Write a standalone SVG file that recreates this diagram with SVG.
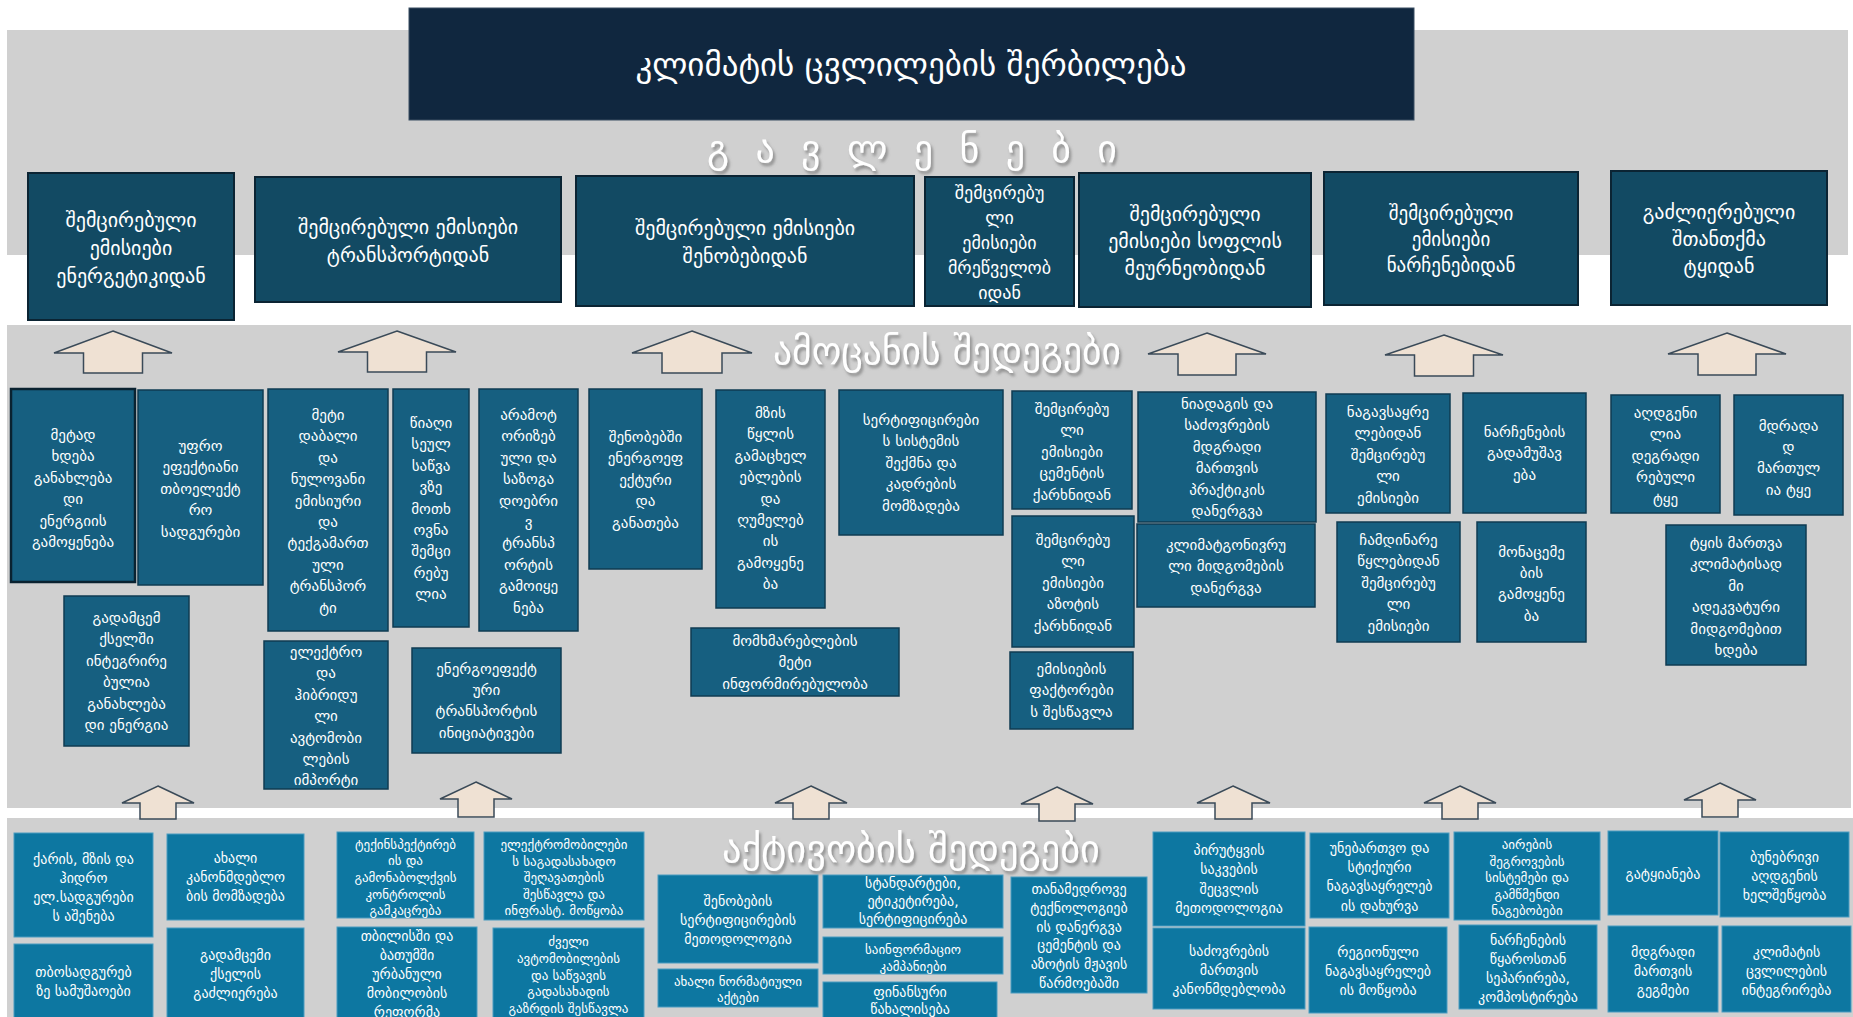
<svg xmlns="http://www.w3.org/2000/svg" width="1853" height="1017" viewBox="0 0 1853 1017">
<defs>
<style>
.band{fill:#d0d0d0}
text{font-family:"DejaVu Sans",sans-serif;fill:#fff;text-anchor:middle}
.imp rect{fill:#124a63;stroke:#0b2433;stroke-width:2}
.imp text{font-size:20px}
.mid rect{fill:#165f80;stroke:#0f3b52;stroke-width:1.5}
.mid text{font-size:15px}
.act rect{fill:#0d77a1;stroke:#4b9cc0;stroke-width:1}
.act text{font-size:14px}
.arr{fill:#efe1d3;stroke:#3a4a58;stroke-width:1.5}
.head{font-size:38px;filter:url(#sh)}
</style>
<filter id="sh" x="-10%" y="-30%" width="120%" height="160%">
<feDropShadow dx="2" dy="3" stdDeviation="1.5" flood-color="#777" flood-opacity="0.8"/>
</filter>
</defs>
<rect width="1853" height="1017" fill="#fff"/>
<rect class="band" x="7" y="30" width="1841" height="225"/>
<rect class="band" x="7" y="325" width="1844" height="483"/>
<rect class="band" x="7" y="818" width="1846" height="210"/>

<g id="title">
<rect x="409" y="8" width="1005" height="112" fill="#10273f" stroke="#3b4f63" stroke-width="1"/>
<text x="911" y="76" font-size="33">კლიმატის ცვლილების შერბილება</text>
</g>
<text class="head" x="912" y="162" textLength="410" lengthAdjust="spacing">გ ა ვ ლ ე ნ ე ბ ი</text>
<text class="head" x="947" y="364" textLength="348" lengthAdjust="spacingAndGlyphs">ამოცანის შედეგები</text>
<text class="head" x="911" y="862" textLength="378" lengthAdjust="spacingAndGlyphs">აქტივობის შედეგები</text>

<g id="impacts">
<g class="imp" id="i1"><rect x="28" y="173" width="206" height="147"/><text x="131" y="227"><tspan x="131">შემცირებული</tspan><tspan x="131" dy="28">ემისიები</tspan><tspan x="131" dy="28">ენერგეტიკიდან</tspan></text></g>
<g class="imp" id="i2"><rect x="255" y="177" width="306" height="125"/><text x="408" y="234"><tspan x="408">შემცირებული ემისიები</tspan><tspan x="408" dy="28">ტრანსპორტიდან</tspan></text></g>
<g class="imp" id="i3"><rect x="576" y="176" width="338" height="130"/><text x="745" y="235"><tspan x="745">შემცირებული ემისიები</tspan><tspan x="745" dy="28">შენობებიდან</tspan></text></g>
<g class="imp" id="i4"><rect x="925" y="177" width="149" height="129"/><text x="999.5" y="199" style="font-size:18px"><tspan x="999.5">შემცირებუ</tspan><tspan x="999.5" dy="25">ლი</tspan><tspan x="999.5" dy="25">ემისიები</tspan><tspan x="999.5" dy="25">მრეწველობ</tspan><tspan x="999.5" dy="25">იდან</tspan></text></g>
<g class="imp" id="i5"><rect x="1079" y="173" width="232" height="134"/><text x="1195" y="221"><tspan x="1195">შემცირებული</tspan><tspan x="1195" dy="27">ემისიები სოფლის</tspan><tspan x="1195" dy="27">მეურნეობიდან</tspan></text></g>
<g class="imp" id="i6"><rect x="1324" y="172" width="254" height="133"/><text x="1451" y="220" style="font-size:19px"><tspan x="1451">შემცირებული</tspan><tspan x="1451" dy="26">ემისიები</tspan><tspan x="1451" dy="26">ნარჩენებიდან</tspan></text></g>
<g class="imp" id="i7"><rect x="1611" y="171" width="216" height="134"/><text x="1719" y="219"><tspan x="1719">გაძლიერებული</tspan><tspan x="1719" dy="27">შთანთქმა</tspan><tspan x="1719" dy="27">ტყიდან</tspan></text></g>
</g>

<g id="outcomes">
<g class="mid" id="a1"><rect x="11" y="389" width="124" height="193" style="stroke:#0a2230;stroke-width:2.5"/><text y="440"><tspan x="73">მეტად</tspan><tspan x="73" dy="21.4">ხდება</tspan><tspan x="73" dy="21.4">განახლება</tspan><tspan x="73" dy="21.4">დი</tspan><tspan x="73" dy="21.4">ენერგიის</tspan><tspan x="73" dy="21.4">გამოყენება</tspan></text></g>
<g class="mid" id="a2"><rect x="138" y="390" width="125" height="195"/><text y="451"><tspan x="200.5">უფრო</tspan><tspan x="200.5" dy="21.4">ეფექტიანი</tspan><tspan x="200.5" dy="21.4">თბოელექტ</tspan><tspan x="200.5" dy="21.4">რო</tspan><tspan x="200.5" dy="21.4">სადგურები</tspan></text></g>
<g class="mid" id="a3"><rect x="268" y="389" width="120" height="242"/><text y="420"><tspan x="328">მეტი</tspan><tspan x="328" dy="21.4">დაბალი</tspan><tspan x="328" dy="21.4">და</tspan><tspan x="328" dy="21.4">ნულოვანი</tspan><tspan x="328" dy="21.4">ემისიური</tspan><tspan x="328" dy="21.4">და</tspan><tspan x="328" dy="21.4">ტექგამართ</tspan><tspan x="328" dy="21.4">ული</tspan><tspan x="328" dy="21.4">ტრანსპორ</tspan><tspan x="328" dy="21.4">ტი</tspan></text></g>
<g class="mid" id="a4"><rect x="393" y="389" width="76" height="238"/><text y="428"><tspan x="431">წიაღი</tspan><tspan x="431" dy="21.4">სეულ</tspan><tspan x="431" dy="21.4">საწვა</tspan><tspan x="431" dy="21.4">ვზე</tspan><tspan x="431" dy="21.4">მოთხ</tspan><tspan x="431" dy="21.4">ოვნა</tspan><tspan x="431" dy="21.4">შემცი</tspan><tspan x="431" dy="21.4">რებუ</tspan><tspan x="431" dy="21.4">ლია</tspan></text></g>
<g class="mid" id="a5"><rect x="64" y="596" width="125" height="150"/><text y="623"><tspan x="126.5">გადამცემ</tspan><tspan x="126.5" dy="21.4">ქსელში</tspan><tspan x="126.5" dy="21.4">ინტეგრირე</tspan><tspan x="126.5" dy="21.4">ბულია</tspan><tspan x="126.5" dy="21.4">განახლება</tspan><tspan x="126.5" dy="21.4">დი ენერგია</tspan></text></g>
<g class="mid" id="a6"><rect x="264" y="641" width="124" height="148"/><text y="657"><tspan x="326">ელექტრო</tspan><tspan x="326" dy="21.4">და</tspan><tspan x="326" dy="21.4">ჰიბრიდუ</tspan><tspan x="326" dy="21.4">ლი</tspan><tspan x="326" dy="21.4">ავტომობი</tspan><tspan x="326" dy="21.4">ლების</tspan><tspan x="326" dy="21.4">იმპორტი</tspan></text></g>
<g class="mid" id="a7"><rect x="412" y="648" width="149" height="105"/><text y="673.5"><tspan x="486.5">ენერგოეფექტ</tspan><tspan x="486.5" dy="21.4">ური</tspan><tspan x="486.5" dy="21.4">ტრანსპორტის</tspan><tspan x="486.5" dy="21.4">ინიციატივები</tspan></text></g>
<g class="mid" id="a8"><rect x="479" y="389" width="99" height="242"/><text y="420"><tspan x="528.5">არამოტ</tspan><tspan x="528.5" dy="21.4">ორიზებ</tspan><tspan x="528.5" dy="21.4">ული და</tspan><tspan x="528.5" dy="21.4">საზოგა</tspan><tspan x="528.5" dy="21.4">დოებრი</tspan><tspan x="528.5" dy="21.4">ვ</tspan><tspan x="528.5" dy="21.4">ტრანსპ</tspan><tspan x="528.5" dy="21.4">ორტის</tspan><tspan x="528.5" dy="21.4">გამოიყე</tspan><tspan x="528.5" dy="21.4">ნება</tspan></text></g>
<g class="mid" id="a9"><rect x="589" y="389" width="113" height="180"/><text y="442"><tspan x="645.5">შენობებში</tspan><tspan x="645.5" dy="21.4">ენერგოეფ</tspan><tspan x="645.5" dy="21.4">ექტური</tspan><tspan x="645.5" dy="21.4">და</tspan><tspan x="645.5" dy="21.4">განათება</tspan></text></g>
<g class="mid" id="a10"><rect x="716" y="390" width="109" height="218"/><text y="418"><tspan x="770.5">მზის</tspan><tspan x="770.5" dy="21.4">წყლის</tspan><tspan x="770.5" dy="21.4">გამაცხელ</tspan><tspan x="770.5" dy="21.4">ებლების</tspan><tspan x="770.5" dy="21.4">და</tspan><tspan x="770.5" dy="21.4">ღუმელებ</tspan><tspan x="770.5" dy="21.4">ის</tspan><tspan x="770.5" dy="21.4">გამოყენე</tspan><tspan x="770.5" dy="21.4">ბა</tspan></text></g>
<g class="mid" id="a11"><rect x="839" y="390" width="164" height="145"/><text y="425"><tspan x="921">სერტიფიცირები</tspan><tspan x="921" dy="21.4">ს სისტემის</tspan><tspan x="921" dy="21.4">შექმნა და</tspan><tspan x="921" dy="21.4">კადრების</tspan><tspan x="921" dy="21.4">მომზადება</tspan></text></g>
<g class="mid" id="a12"><rect x="691" y="628" width="208" height="68"/><text y="646"><tspan x="795">მომხმარებლების</tspan><tspan x="795" dy="21.4">მეტი</tspan><tspan x="795" dy="21.4">ინფორმირებულობა</tspan></text></g>
<g class="mid" id="a13"><rect x="1012" y="391" width="120" height="118"/><text y="414"><tspan x="1072">შემცირებუ</tspan><tspan x="1072" dy="21.4">ლი</tspan><tspan x="1072" dy="21.4">ემისიები</tspan><tspan x="1072" dy="21.4">ცემენტის</tspan><tspan x="1072" dy="21.4">ქარხნიდან</tspan></text></g>
<g class="mid" id="a14"><rect x="1012" y="516" width="122" height="131"/><text y="545"><tspan x="1073">შემცირებუ</tspan><tspan x="1073" dy="21.4">ლი</tspan><tspan x="1073" dy="21.4">ემისიები</tspan><tspan x="1073" dy="21.4">აზოტის</tspan><tspan x="1073" dy="21.4">ქარხნიდან</tspan></text></g>
<g class="mid" id="a15"><rect x="1010" y="652" width="123" height="77"/><text y="674"><tspan x="1071.5">ემისიების</tspan><tspan x="1071.5" dy="21.4">ფაქტორები</tspan><tspan x="1071.5" dy="21.4">ს შესწავლა</tspan></text></g>
<g class="mid" id="a16"><rect x="1138" y="392" width="178" height="130"/><text y="409"><tspan x="1227">ნიადაგის და</tspan><tspan x="1227" dy="21.4">საძოვრების</tspan><tspan x="1227" dy="21.4">მდგრადი</tspan><tspan x="1227" dy="21.4">მართვის</tspan><tspan x="1227" dy="21.4">პრაქტიკის</tspan><tspan x="1227" dy="21.4">დანერგვა</tspan></text></g>
<g class="mid" id="a17"><rect x="1137" y="524" width="178" height="83"/><text y="550"><tspan x="1226">კლიმატგონივრუ</tspan><tspan x="1226" dy="21.4">ლი მიდგომების</tspan><tspan x="1226" dy="21.4">დანერგვა</tspan></text></g>
<g class="mid" id="a18"><rect x="1326" y="394" width="124" height="119"/><text y="417"><tspan x="1388">ნაგავსაყრე</tspan><tspan x="1388" dy="21.4">ლებიდან</tspan><tspan x="1388" dy="21.4">შემცირებუ</tspan><tspan x="1388" dy="21.4">ლი</tspan><tspan x="1388" dy="21.4">ემისიები</tspan></text></g>
<g class="mid" id="a19"><rect x="1337" y="522" width="123" height="120"/><text y="545"><tspan x="1398.5">ჩამდინარე</tspan><tspan x="1398.5" dy="21.4">წყლებიდან</tspan><tspan x="1398.5" dy="21.4">შემცირებუ</tspan><tspan x="1398.5" dy="21.4">ლი</tspan><tspan x="1398.5" dy="21.4">ემისიები</tspan></text></g>
<g class="mid" id="a20"><rect x="1463" y="393" width="123" height="120"/><text y="437"><tspan x="1524.5">ნარჩენების</tspan><tspan x="1524.5" dy="21.4">გადამუშავ</tspan><tspan x="1524.5" dy="21.4">ება</tspan></text></g>
<g class="mid" id="a21"><rect x="1477" y="522" width="109" height="120"/><text y="556.5"><tspan x="1531.5">მონაცემე</tspan><tspan x="1531.5" dy="21.4">ბის</tspan><tspan x="1531.5" dy="21.4">გამოყენე</tspan><tspan x="1531.5" dy="21.4">ბა</tspan></text></g>
<g class="mid" id="a22"><rect x="1611" y="395" width="109" height="118"/><text y="418"><tspan x="1665.5">აღდგენი</tspan><tspan x="1665.5" dy="21.4">ლია</tspan><tspan x="1665.5" dy="21.4">დეგრადი</tspan><tspan x="1665.5" dy="21.4">რებული</tspan><tspan x="1665.5" dy="21.4">ტყე</tspan></text></g>
<g class="mid" id="a23"><rect x="1734" y="395" width="109" height="120"/><text y="430.5"><tspan x="1788.5">მდრადა</tspan><tspan x="1788.5" dy="21.4">დ</tspan><tspan x="1788.5" dy="21.4">მართულ</tspan><tspan x="1788.5" dy="21.4">ია ტყე</tspan></text></g>
<g class="mid" id="a24"><rect x="1666" y="525" width="140" height="140"/><text y="548"><tspan x="1736">ტყის მართვა</tspan><tspan x="1736" dy="21.4">კლიმატისად</tspan><tspan x="1736" dy="21.4">მი</tspan><tspan x="1736" dy="21.4">ადეკვატური</tspan><tspan x="1736" dy="21.4">მიდგომებით</tspan><tspan x="1736" dy="21.4">ხდება</tspan></text></g>
</g>

<g id="activities">
<g class="act" id="b1"><rect x="14" y="833" width="139" height="104"/><text y="863.5"><tspan x="83.5">ქარის, მზის და</tspan><tspan x="83.5" dy="19">ჰიდრო</tspan><tspan x="83.5" dy="19">ელ.სადგურები</tspan><tspan x="83.5" dy="19">ს აშენება</tspan></text></g>
<g class="act" id="b2"><rect x="14" y="944" width="139" height="90"/><text y="976.5"><tspan x="83.5">თბოსადგურებ</tspan><tspan x="83.5" dy="19">ზე სამუშაოები</tspan></text></g>
<g class="act" id="b3"><rect x="167" y="834" width="137" height="86"/><text y="863"><tspan x="235.5">ახალი</tspan><tspan x="235.5" dy="19">კანონმდებლო</tspan><tspan x="235.5" dy="19">ბის მომზადება</tspan></text></g>
<g class="act" id="b4"><rect x="167" y="928" width="137" height="100"/><text y="960"><tspan x="235.5">გადამცემი</tspan><tspan x="235.5" dy="19">ქსელის</tspan><tspan x="235.5" dy="19">გაძლიერება</tspan></text></g>
<g class="act" id="b5"><rect x="337" y="832" width="137" height="86"/><text y="848.5" style="font-size:13px"><tspan x="405.5">ტექინსპექტირებ</tspan><tspan x="405.5" dy="16.7">ის და</tspan><tspan x="405.5" dy="16.7">გამონაბოლქვის</tspan><tspan x="405.5" dy="16.7">კონტროლის</tspan><tspan x="405.5" dy="16.7">გამკაცრება</tspan></text></g>
<g class="act" id="b6"><rect x="337" y="927" width="140" height="100"/><text y="941"><tspan x="407">თბილისში და</tspan><tspan x="407" dy="19">ბათუმში</tspan><tspan x="407" dy="19">ურბანული</tspan><tspan x="407" dy="19">მობილობის</tspan><tspan x="407" dy="19">რეფორმა</tspan></text></g>
<g class="act" id="b7"><rect x="484" y="832" width="160" height="88"/><text y="849" style="font-size:13px"><tspan x="564">ელექტრომობილები</tspan><tspan x="564" dy="16.5">ს საგადასახადო</tspan><tspan x="564" dy="16.5">შეღავათების</tspan><tspan x="564" dy="16.5">შესწავლა და</tspan><tspan x="564" dy="16.5">ინფრასტ. მოწყობა</tspan></text></g>
<g class="act" id="b8"><rect x="493" y="928" width="151" height="100"/><text y="946" style="font-size:13px"><tspan x="568.5">ძველი</tspan><tspan x="568.5" dy="16.8">ავტომობილების</tspan><tspan x="568.5" dy="16.8">და საწვავის</tspan><tspan x="568.5" dy="16.8">გადასახადის</tspan><tspan x="568.5" dy="16.8">გაზრდის შესწავლა</tspan></text></g>
<g class="act" id="b9"><rect x="658" y="875" width="160" height="88"/><text y="906"><tspan x="738">შენობების</tspan><tspan x="738" dy="19">სერტიფიცირების</tspan><tspan x="738" dy="19">მეთოდოლოგია</tspan></text></g>
<g class="act" id="b10"><rect x="658" y="969" width="160" height="38"/><text y="986" style="font-size:13px"><tspan x="738">ახალი ნორმატიული</tspan><tspan x="738" dy="16">აქტები</tspan></text></g>
<g class="act" id="b11"><rect x="823" y="875" width="180" height="53"/><text y="888"><tspan x="913">სტანდარტები,</tspan><tspan x="913" dy="18">ეტიკეტირება,</tspan><tspan x="913" dy="18">სერტიფიცირება</tspan></text></g>
<g class="act" id="b12"><rect x="823" y="937" width="180" height="37"/><text y="953.5" style="font-size:13px"><tspan x="913">საინფორმაციო</tspan><tspan x="913" dy="17">კამპანიები</tspan></text></g>
<g class="act" id="b13"><rect x="823" y="982" width="174" height="50"/><text y="996.5"><tspan x="910">ფინანსური</tspan><tspan x="910" dy="17">წახალისება</tspan></text></g>
<g class="act" id="b14"><rect x="1011" y="877" width="136" height="116"/><text y="894"><tspan x="1079">თანამედროვე</tspan><tspan x="1079" dy="18.8">ტექნოლოგიებ</tspan><tspan x="1079" dy="18.8">ის დანერგვა</tspan><tspan x="1079" dy="18.8">ცემენტის და</tspan><tspan x="1079" dy="18.8">აზოტის მჟავის</tspan><tspan x="1079" dy="18.8">წარმოებაში</tspan></text></g>
<g class="act" id="b15"><rect x="1153" y="832" width="152" height="94"/><text y="855"><tspan x="1229">პირუტყვის</tspan><tspan x="1229" dy="19.4">საკვების</tspan><tspan x="1229" dy="19.4">შეცვლის</tspan><tspan x="1229" dy="19.4">მეთოდოლოგია</tspan></text></g>
<g class="act" id="b16"><rect x="1153" y="928" width="152" height="81"/><text y="955.7"><tspan x="1229">საძოვრების</tspan><tspan x="1229" dy="19.3">მართვის</tspan><tspan x="1229" dy="19.3">კანონმდებლობა</tspan></text></g>
<g class="act" id="b17"><rect x="1310" y="833" width="139" height="85"/><text y="853"><tspan x="1379.5">უნებართვო და</tspan><tspan x="1379.5" dy="19.2">სტიქიური</tspan><tspan x="1379.5" dy="19.2">ნაგავსაყრელებ</tspan><tspan x="1379.5" dy="19.2">ის დახურვა</tspan></text></g>
<g class="act" id="b18"><rect x="1309" y="927" width="138" height="86"/><text y="957"><tspan x="1378">რეგიონული</tspan><tspan x="1378" dy="19">ნაგავსაყრელებ</tspan><tspan x="1378" dy="19">ის მოწყობა</tspan></text></g>
<g class="act" id="b19"><rect x="1454" y="832" width="146" height="88"/><text y="849" style="font-size:13px"><tspan x="1527">აირების</tspan><tspan x="1527" dy="16.5">შეგროვების</tspan><tspan x="1527" dy="16.5">სისტემები და</tspan><tspan x="1527" dy="16.5">გამწმენდი</tspan><tspan x="1527" dy="16.5">ნაგებობები</tspan></text></g>
<g class="act" id="b20"><rect x="1459" y="925" width="138" height="84"/><text y="944.5"><tspan x="1528">ნარჩენების</tspan><tspan x="1528" dy="19">წყაროსთან</tspan><tspan x="1528" dy="19">სეპარირება,</tspan><tspan x="1528" dy="19">კომპოსტირება</tspan></text></g>
<g class="act" id="b21"><rect x="1608" y="831" width="110" height="84"/><text x="1663" y="879">გატყიანება</text></g>
<g class="act" id="b22"><rect x="1720" y="832" width="129" height="85"/><text y="862"><tspan x="1784.5">ბუნებრივი</tspan><tspan x="1784.5" dy="19">აღდგენის</tspan><tspan x="1784.5" dy="19">ხელშეწყობა</tspan></text></g>
<g class="act" id="b23"><rect x="1608" y="926" width="110" height="86"/><text y="957"><tspan x="1663">მდგრადი</tspan><tspan x="1663" dy="19">მართვის</tspan><tspan x="1663" dy="19">გეგმები</tspan></text></g>
<g class="act" id="b24"><rect x="1722" y="926" width="129" height="86"/><text y="957"><tspan x="1786.5">კლიმატის</tspan><tspan x="1786.5" dy="19">ცვლილების</tspan><tspan x="1786.5" dy="19">ინტეგრირება</tspan></text></g>
</g>

<g id="connectors">
<path class="arr" d="M113,331 L172,353 L142.5,353 L142.5,373 L83.5,373 L83.5,353 L54,353 Z"/>
<path class="arr" d="M397,331 L456,352 L426.5,352 L426.5,372 L367.5,372 L367.5,352 L338,352 Z"/>
<path class="arr" d="M692,331 L752,353 L722,353 L722,373 L662,373 L662,353 L632,353 Z"/>
<path class="arr" d="M1207,333 L1266,354 L1236,354 L1236,375 L1178,375 L1178,354 L1148,354 Z"/>
<path class="arr" d="M1444,335 L1503,355 L1473.5,355 L1473.5,376 L1414.5,376 L1414.5,355 L1385,355 Z"/>
<path class="arr" d="M1727,333 L1786,354 L1756,354 L1756,375 L1698,375 L1698,354 L1668,354 Z"/>
<path class="arr" d="M158,786 L194,803 L176,803 L176,819 L140,819 L140,803 L122,803 Z"/>
<path class="arr" d="M476,782 L512,799 L494,799 L494,817 L458,817 L458,799 L440,799 Z"/>
<path class="arr" d="M811,786 L847,803 L829,803 L829,819 L793,819 L793,803 L775,803 Z"/>
<path class="arr" d="M1057,787 L1093,804 L1075,804 L1075,821 L1039,821 L1039,804 L1021,804 Z"/>
<path class="arr" d="M1233,786 L1270,803 L1252,803 L1252,819 L1215,819 L1215,803 L1197,803 Z"/>
<path class="arr" d="M1460,786 L1496,803 L1478,803 L1478,819 L1442,819 L1442,803 L1424,803 Z"/>
<path class="arr" d="M1720,783 L1756,800 L1738,800 L1738,817 L1702,817 L1702,800 L1684,800 Z"/>
</g>
</svg>
